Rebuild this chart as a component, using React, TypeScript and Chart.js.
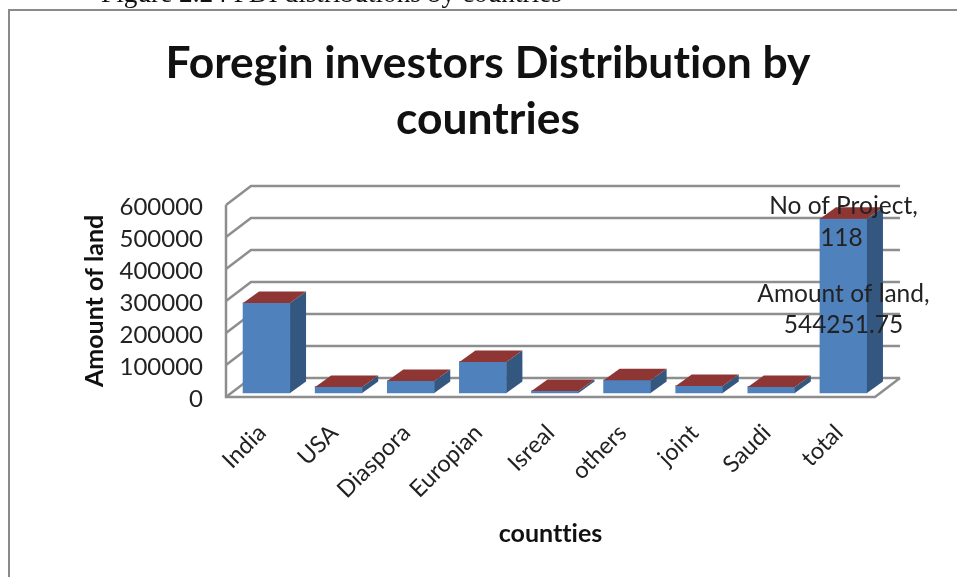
import React, { useEffect, useRef } from "react";
import { Chart, registerables } from "chart.js";

Chart.register(...registerables);

const caption = "Figure 2.24 FDI distributions by countries";
const chartTitle = ["Foregin investors Distribution by", "countries"];
const categories = ["India", "USA", "Diaspora", "Europian", "Isreal", "others", "joint", "Saudi", "total"];
const amountOfLand = [281000, 19000, 37500, 97000, 6000, 40000, 22000, 19000, 544251.75];
const noOfProject = [40, 12, 15, 20, 3, 12, 8, 8, 118];
const yTicks = [0, 100000, 200000, 300000, 400000, 500000, 600000];
const calloutSeries = ["No of Project,", "Amount of land,"];

const FONT = "Lato, Carlito, Calibri, sans-serif";
const TEXT = "#222222";
const GRID = "#8e8e8e";

const DEPTH_WALL = { dx: 25, dy: -19 };
const DEPTH_BAR = { dx: 16, dy: -11.5 };
const BAR_SHIFT = { x: 4.5, y: -4 };

const wall3d = {
  id: "wall3d",
  beforeDraw(chart: any) {
    const { ctx, width } = chart;
    ctx.textRendering = "optimizeSpeed";
    ctx.save();
    ctx.fillStyle = "#ffffff";
    ctx.fillRect(0, 0, width, chart.height);
    ctx.strokeStyle = "#8a8a8a";
    ctx.lineWidth = 2;
    ctx.beginPath();
    ctx.moveTo(9, 577);
    ctx.lineTo(9, 10);
    ctx.lineTo(width, 10);
    ctx.stroke();
    ctx.fillStyle = "#111111";
    ctx.font = "27.3px 'Liberation Serif'";
    ctx.textAlign = "left";
    ctx.textBaseline = "alphabetic";
    ctx.fillText(caption, 101, 2);
    ctx.restore();
  },
  beforeDatasetsDraw(chart: any) {
    const { ctx, chartArea: a, scales } = chart;
    const y = scales.y;
    ctx.save();
    ctx.strokeStyle = GRID;
    ctx.lineWidth = 2.5;
    ctx.lineJoin = "miter";
    yTicks.forEach((t) => {
      const py = y.getPixelForValue(t);
      ctx.beginPath();
      ctx.moveTo(a.left, py);
      ctx.lineTo(a.left + DEPTH_WALL.dx, py + DEPTH_WALL.dy);
      ctx.lineTo(a.right + DEPTH_WALL.dx, py + DEPTH_WALL.dy);
      ctx.stroke();
    });
    ctx.beginPath();
    ctx.moveTo(a.left, a.top);
    ctx.lineTo(a.left, a.bottom);
    ctx.lineTo(a.right, a.bottom);
    ctx.lineTo(a.right + DEPTH_WALL.dx, a.bottom + DEPTH_WALL.dy);
    ctx.stroke();
    ctx.restore();
    ctx.save();
    ctx.translate(BAR_SHIFT.x, BAR_SHIFT.y);
  },
  afterDatasetsDraw(chart: any) {
    const { ctx, scales } = chart;
    const blue = chart.getDatasetMeta(0).data;
    const red = chart.getDatasetMeta(1).data;
    blue.forEach((b: any, i: number) => {
      const p = b.getProps(["x", "y", "base", "width"], true);
      const l = p.x - p.width / 2;
      const r = p.x + p.width / 2;
      const top = red[i].getProps(["y"], true).y;
      const { dx, dy } = DEPTH_BAR;
      ctx.fillStyle = "#34577f";
      ctx.beginPath();
      ctx.moveTo(r, p.base);
      ctx.lineTo(r + dx, p.base + dy);
      ctx.lineTo(r + dx, top + dy);
      ctx.lineTo(r, top);
      ctx.closePath();
      ctx.fill();
      ctx.fillStyle = "#8e3634";
      ctx.beginPath();
      ctx.moveTo(l, top);
      ctx.lineTo(l + dx, top + dy);
      ctx.lineTo(r + dx, top + dy);
      ctx.lineTo(r, top);
      ctx.closePath();
      ctx.fill();
    });
    ctx.restore();

    const last = categories.length - 1;
    const cx = scales.x.getPixelForValue(last) + BAR_SHIFT.x;
    ctx.save();
    ctx.fillStyle = TEXT;
    ctx.font = `24.5px ${FONT}`;
    ctx.textAlign = "center";
    ctx.textBaseline = "middle";
    ctx.fillText(calloutSeries[0], cx, 206);
    ctx.fillText(String(noOfProject[last]), cx - 2, 238);
    ctx.fillText(calloutSeries[1], cx, 294);
    ctx.fillText(String(amountOfLand[last]), cx, 325);
    ctx.restore();
  },
};

export default function App() {
  const ref = useRef<HTMLCanvasElement>(null);
  useEffect(() => {
    document.body.style.margin = "0";
    document.body.style.overflow = "hidden";
    const chart = new Chart(ref.current!, {
      type: "bar",
      data: {
        labels: categories,
        datasets: [
          { label: "Amount of land", data: amountOfLand, backgroundColor: "#4f81bd", stack: "s", clip: false as any },
          { label: "No of Project", data: noOfProject, backgroundColor: "#8e3634", stack: "s", clip: false as any },
        ],
      },
      options: {
        animation: false,
        responsive: false,
        devicePixelRatio: 1,
        layout: { padding: { left: 19, right: 0, top: 0, bottom: 0 } },
        datasets: { bar: { barThickness: 47 } },
        plugins: {
          legend: { display: false },
          tooltip: { enabled: false },
          title: {
            display: true,
            text: chartTitle,
            color: "#111111",
            font: { family: FONT, size: 44.4, weight: "bold", lineHeight: 1.26 },
            padding: { top: 36, bottom: 57 },
          },
        },
        scales: {
          x: {
            stacked: true,
            grid: { display: false },
            border: { display: false },
            afterFit: (s: any) => { s.height = 180; },
            ticks: {
              autoSkip: false,
              minRotation: 45,
              maxRotation: 45,
              padding: 14,
              color: TEXT,
              font: { family: FONT, size: 23.5 },
            },
            title: {
              display: true,
              text: "countties",
              color: "#111111",
              font: { family: FONT, size: 25, weight: "bold" },
              padding: { top: 0, bottom: 28 },
            },
          },
          y: {
            stacked: true,
            min: 0,
            max: 600000,
            grid: { display: false, drawTicks: false },
            border: { display: false },
            afterFit: (s: any) => { s.width = 207; },
            afterBuildTicks: (s: any) => { s.ticks = yTicks.map((value) => ({ value })); },
            ticks: {
              padding: 23,
              labelOffset: 2,
              color: TEXT,
              font: { family: FONT, size: 24 },
              callback: (v: any) => String(v),
            },
            title: {
              display: true,
              text: "Amount of land",
              color: "#111111",
              font: { family: FONT, size: 25, weight: "bold" },
              padding: { top: 61, bottom: 0 },
            },
          },
          y2: {
            position: "right",
            grid: { display: false },
            border: { display: false },
            ticks: { display: false },
            afterFit: (s: any) => { s.width = 82; },
          },
        },
      } as any,
      plugins: [wall3d],
    });
    return () => chart.destroy();
  }, []);
  return (
    <canvas
      ref={ref}
      width={957}
      height={577}
      style={{ position: "absolute", left: 0, top: 0, width: 957, height: 577, filter: "blur(0.5px)" }}
    />
  );
}
